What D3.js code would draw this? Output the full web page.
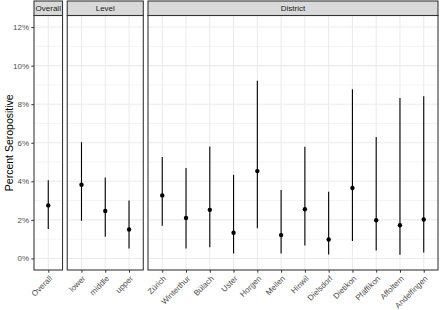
<!DOCTYPE html>
<html>
<head>
<meta charset="utf-8">
<script src="https://cdn.jsdelivr.net/npm/d3@7"></script>
<style>
  body { margin: 0; background: #fff; }
  text { font-family: "Liberation Sans", Arial, sans-serif; }
</style>
</head>
<body>
<div id="chart"></div>
<script>
// panels and their categories
var panel_names = ["Overall", "Level", "District"];
var overall_cats = ["Overall"];
var level_cats = ["lower", "middle", "upper"];
var district_cats = ["Zürich", "Winterthur", "Bülach", "Uster", "Horgen", "Meilen",
    "Hinwil", "Dielsdorf", "Dietikon", "Pfäffikon", "Affoltern", "Andelfingen"];

// estimates and 95% intervals, in percent
var overall_est = [2.75], overall_lo = [1.53], overall_hi = [4.05];
var level_est = [3.82, 2.46, 1.50];
var level_lo = [1.95, 1.12, 0.52];
var level_hi = [6.03, 4.20, 3.00];
var district_est = [3.27, 2.10, 2.52, 1.33, 4.53, 1.21, 2.55, 0.98, 3.65, 1.98, 1.72, 2.02];
var district_lo = [1.70, 0.52, 0.58, 0.26, 1.57, 0.26, 0.67, 0.20, 0.90, 0.41, 0.19, 0.31];
var district_hi = [5.26, 4.69, 5.80, 4.34, 9.22, 3.55, 5.79, 3.46, 8.77, 6.30, 8.32, 8.41];

var y_ticks = [0, 2, 4, 6, 8, 10, 12];
var y_minor = [1, 3, 5, 7, 9, 11];

// layout (note: "top" is reserved on window, so use other names)
var svg_w = 440, svg_h = 310;
var plot_left = 34, plot_right = 438, plot_top = 15.5, plot_bottom = 270, strip_top = 1, gap = 4.7;

var panels = [
  {name: panel_names[0], cats: overall_cats, est: overall_est, lo: overall_lo, hi: overall_hi},
  {name: panel_names[1], cats: level_cats, est: level_est, lo: level_lo, hi: level_hi},
  {name: panel_names[2], cats: district_cats, est: district_est, lo: district_lo, hi: district_hi}
];

// free x space: each panel gets (n + 0.2) units
var units = d3.sum(panels, p => p.cats.length + 0.2);
var unit_w = (plot_right - plot_left - gap * (panels.length - 1)) / units;
var cur_x = plot_left;
panels.forEach(function(p) {
  p.x0 = cur_x;
  p.x1 = cur_x + unit_w * (p.cats.length + 0.2);
  cur_x = p.x1 + gap;
  p.x = d3.scalePoint().domain(p.cats).range([p.x0, p.x1]).padding(0.6);
});

var y = d3.scaleLinear().domain([-0.6, 12.6]).range([plot_bottom, plot_top]);

var svg = d3.select("#chart").append("svg")
    .attr("width", svg_w)
    .attr("height", svg_h);

// y axis title
svg.append("text")
    .attr("transform", "translate(13," + ((plot_top + plot_bottom) / 2) + ") rotate(-90)")
    .attr("text-anchor", "middle")
    .attr("font-size", "10.5px")
    .attr("fill", "#000")
    .text("Percent Seropositive");

// y axis on the first panel
var y_axis = svg.append("g")
    .attr("transform", "translate(" + panels[0].x0 + ",0)")
    .call(d3.axisLeft(y).tickValues(y_ticks).tickSize(2.7).tickPadding(2.2)
        .tickFormat(d => d + "%"));
y_axis.select(".domain").remove();
y_axis.selectAll(".tick line").attr("stroke", "#333").attr("stroke-width", 1);
y_axis.selectAll(".tick text").attr("fill", "#4d4d4d").attr("font-size", "8px")
    .attr("font-family", "Liberation Sans, Arial, sans-serif");

panels.forEach(function(p) {
  var g = svg.append("g");

  // grid
  g.selectAll("line.minor").data(y_minor).join("line")
      .attr("x1", p.x0).attr("x2", p.x1)
      .attr("y1", d => y(d)).attr("y2", d => y(d))
      .attr("stroke", "#ebebeb").attr("stroke-width", 0.55);
  g.selectAll("line.major").data(y_ticks).join("line")
      .attr("x1", p.x0).attr("x2", p.x1)
      .attr("y1", d => y(d)).attr("y2", d => y(d))
      .attr("stroke", "#ebebeb").attr("stroke-width", 1.07);
  g.selectAll("line.vgrid").data(p.cats).join("line")
      .attr("x1", d => p.x(d)).attr("x2", d => p.x(d))
      .attr("y1", plot_top).attr("y2", plot_bottom)
      .attr("stroke", "#ebebeb").attr("stroke-width", 1.07);

  // intervals and points
  g.selectAll("line.ci").data(p.cats).join("line")
      .attr("x1", d => p.x(d)).attr("x2", d => p.x(d))
      .attr("y1", (d, i) => y(p.lo[i])).attr("y2", (d, i) => y(p.hi[i]))
      .attr("stroke", "#000").attr("stroke-width", 1.1);
  g.selectAll("circle").data(p.cats).join("circle")
      .attr("cx", d => p.x(d)).attr("cy", (d, i) => y(p.est[i]))
      .attr("r", 2.2).attr("fill", "#000");

  // panel border
  g.append("rect")
      .attr("x", p.x0).attr("y", plot_top)
      .attr("width", p.x1 - p.x0).attr("height", plot_bottom - plot_top)
      .attr("fill", "none").attr("stroke", "#333").attr("stroke-width", 1.07);

  // strip
  g.append("rect")
      .attr("x", p.x0).attr("y", strip_top)
      .attr("width", p.x1 - p.x0).attr("height", plot_top - strip_top)
      .attr("fill", "#d9d9d9").attr("stroke", "#333").attr("stroke-width", 1.07);
  g.append("text")
      .attr("x", (p.x0 + p.x1) / 2).attr("y", (strip_top + plot_top) / 2)
      .attr("dy", "0.35em")
      .attr("text-anchor", "middle")
      .attr("font-size", "8px")
      .attr("fill", "#1a1a1a")
      .text(p.name);

  // x axis
  var xa = svg.append("g")
      .attr("transform", "translate(0," + plot_bottom + ")")
      .call(d3.axisBottom(p.x).tickSize(2.7).tickPadding(0));
  xa.select(".domain").remove();
  xa.selectAll(".tick line").attr("stroke", "#333").attr("stroke-width", 1);
  xa.selectAll(".tick text")
      .attr("fill", "#4d4d4d").attr("font-size", "8px")
      .attr("font-family", "Liberation Sans, Arial, sans-serif")
      .attr("text-anchor", "end")
      .attr("y", 0).attr("dy", 0)
      .attr("transform", "translate(4,9) rotate(-45)");
});
</script>
</body>
</html>
